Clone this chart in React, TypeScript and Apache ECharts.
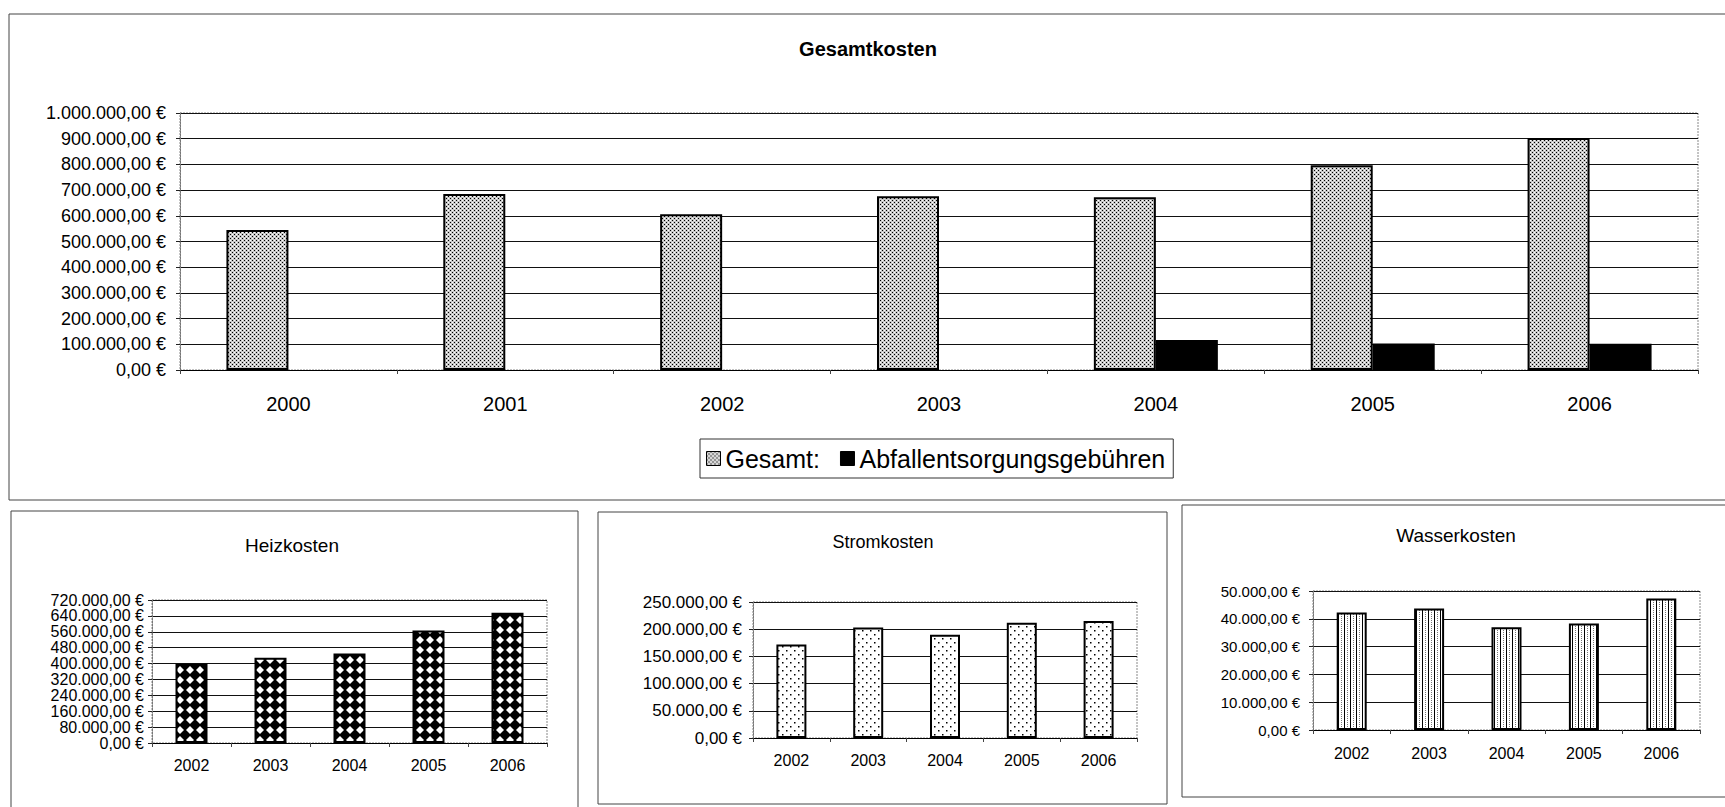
import React, { useEffect, useRef } from "react";
import * as echarts from "echarts";

const yearsTop = ["2000", "2001", "2002", "2003", "2004", "2005", "2006"];
const gesamt = [545000, 685000, 606000, 676000, 672000, 797000, 903000];
const abfall = [null, null, null, null, 117000, 103000, 102000];

const yearsSmall = ["2002", "2003", "2004", "2005", "2006"];
const heiz = [399000, 429000, 451000, 566000, 656000];
const strom = [172000, 203000, 190000, 212000, 215000];
const wasser = [42300, 43700, 37000, 38300, 47300];

const titleTop = "Gesamtkosten";
const titleHeiz = "Heizkosten";
const titleStrom = "Stromkosten";
const titleWasser = "Wasserkosten";
const nameGesamt = "Gesamt:";
const nameAbfall = "Abfallentsorgungsgebühren";

const FONT = "'Liberation Sans', Arial, sans-serif";

const euro = (v: number) => {
  const [i, d] = v.toFixed(2).split(".");
  return i.replace(/\B(?=(\d{3})+(?!\d))/g, ".") + "," + d + " €";
};

function makePattern(w: number, h: number, draw: (c: CanvasRenderingContext2D) => void) {
  const cv = document.createElement("canvas");
  cv.width = w;
  cv.height = h;
  const ctx = cv.getContext("2d")!;
  draw(ctx);
  return { image: cv, repeat: "repeat", imageWidth: w, imageHeight: h } as any;
}

export default function App() {
  const ref = useRef<HTMLDivElement>(null);
  useEffect(() => {
    if (!ref.current) return;
    const chart = echarts.init(ref.current, null, { renderer: "svg" });

    const patGesamt = makePattern(4, 4, (c) => {
      c.fillStyle = "#c8c8c8";
      c.fillRect(0, 0, 4, 4);
      c.fillStyle = "#000";
      c.fillRect(0, 0, 1, 1);
      c.fillRect(2, 2, 1, 1);
      c.fillStyle = "#fff";
      c.fillRect(2, 0, 1, 1);
      c.fillRect(0, 2, 1, 1);
    });
    const patHeiz = makePattern(10, 10, (c) => {
      c.fillStyle = "#fff";
      c.fillRect(0, 0, 10, 10);
      c.fillStyle = "#000";
      c.beginPath();
      c.moveTo(5, -1);
      c.lineTo(11, 5);
      c.lineTo(5, 11);
      c.lineTo(-1, 5);
      c.closePath();
      c.fill();
    });
    const patStrom = makePattern(8, 8, (c) => {
      c.fillStyle = "#fff";
      c.fillRect(0, 0, 8, 8);
      c.fillStyle = "#000";
      c.fillRect(2, 2, 1.5, 1.5);
      c.fillRect(6, 6, 1.5, 1.5);
    });
    const patWasser = makePattern(6, 4, (c) => {
      c.fillStyle = "#fff";
      c.fillRect(0, 0, 6, 4);
      c.fillStyle = "#000";
      c.fillRect(0, 0, 1, 4);
      c.fillStyle = "#777";
      c.fillRect(3, 0, 1, 1);
      c.fillRect(3, 2, 1, 1);
    });

    const axisLabelStyle = (size: number, margin: number) => ({
      color: "#000",
      fontFamily: FONT,
      fontSize: size,
      margin,
    });

    const mkX = (gridIndex: number, data: string[], size: number, margin: number) => ({
      type: "category",
      gridIndex,
      data,
      axisLine: { show: true, lineStyle: { color: "#000", width: 1 } },
      axisTick: { show: true, length: 4, lineStyle: { color: "#444" } },
      axisLabel: axisLabelStyle(size, margin),
      splitLine: { show: false },
    });
    const mkY = (gridIndex: number, max: number, interval: number, size: number, margin: number) => ({
      type: "value",
      gridIndex,
      min: 0,
      max,
      interval,
      axisLine: { show: true, lineStyle: { color: "#777", type: [2, 1] } },
      axisTick: { show: true, length: 4, lineStyle: { color: "#222" } },
      axisLabel: { ...axisLabelStyle(size, margin), formatter: (v: number) => euro(v) },
      splitLine: { show: true, lineStyle: { color: "#111", width: 1 } },
    });

    const barStyle = (color: any) => ({ color, borderColor: "#000", borderWidth: 2 });

    const box = (x: number, y: number, w: number, h: number) => ({
      type: "rect",
      shape: { x, y, width: w, height: h },
      style: { fill: "none", stroke: "#444", lineWidth: 1 },
      silent: true,
    });
    const plotBorder = (x: number, y: number, w: number, h: number) => ({
      type: "rect",
      shape: { x, y, width: w, height: h },
      style: { fill: "none", stroke: "#888", lineWidth: 1, lineDash: [2, 1] },
      silent: true,
      z: -1,
    });

    const mkTitle = (text: string, x: number, y: number, size: number, bold: boolean) => ({
      text,
      left: x,
      top: y,
      padding: 0,
      textAlign: "center",
      textVerticalAlign: "middle",
      textStyle: { fontFamily: FONT, fontSize: size, fontWeight: bold ? "bold" : "normal", color: "#000" },
    });

    chart.setOption({
      animation: false,
      backgroundColor: "#fff",
      title: [
        mkTitle(titleTop, 868, 49, 20, true),
        mkTitle(titleHeiz, 292, 545, 19, false),
        mkTitle(titleStrom, 883, 542, 18, false),
        mkTitle(titleWasser, 1456, 535, 19, false),
      ],
      legend: {
        data: [nameGesamt, nameAbfall],
        left: 700,
        top: 439,
        padding: [6, 8, 6, 6],
        itemGap: 20,
        itemWidth: 14,
        itemHeight: 14,
        icon: "rect",
        borderColor: "#333",
        borderWidth: 1,
        textStyle: { fontFamily: FONT, fontSize: 25, color: "#000", lineHeight: 27 },
        itemStyle: { borderColor: "#000", borderWidth: 1 },
      },
      grid: [
        { left: 180, right: 27, top: 113, bottom: 437, containLabel: false },
        { left: 152, right: 1178, top: 600, bottom: 64, containLabel: false },
        { left: 753, right: 588, top: 602, bottom: 69, containLabel: false },
        { left: 1313, right: 25, top: 591, bottom: 77, containLabel: false },
      ],
      xAxis: [
        mkX(0, yearsTop, 20, 24),
        mkX(1, yearsSmall, 16, 14),
        mkX(2, yearsSmall, 16, 14),
        mkX(3, yearsSmall, 16, 15),
      ],
      yAxis: [
        mkY(0, 1000000, 100000, 18, 14),
        mkY(1, 720000, 80000, 16, 8),
        mkY(2, 250000, 50000, 17, 11),
        mkY(3, 50000, 10000, 15, 13),
      ],
      series: [
        {
          name: nameGesamt,
          type: "bar",
          xAxisIndex: 0,
          yAxisIndex: 0,
          data: gesamt,
          barWidth: 62,
          barGap: "0%",
          itemStyle: barStyle(patGesamt),
        },
        {
          name: nameAbfall,
          type: "bar",
          xAxisIndex: 0,
          yAxisIndex: 0,
          data: abfall,
          barWidth: 62,
          barGap: "0%",
          itemStyle: barStyle("#000"),
        },
        {
          name: titleHeiz,
          type: "bar",
          xAxisIndex: 1,
          yAxisIndex: 1,
          data: heiz,
          barWidth: 32,
          itemStyle: barStyle(patHeiz),
        },
        {
          name: titleStrom,
          type: "bar",
          xAxisIndex: 2,
          yAxisIndex: 2,
          data: strom,
          barWidth: 30,
          itemStyle: barStyle(patStrom),
        },
        {
          name: titleWasser,
          type: "bar",
          xAxisIndex: 3,
          yAxisIndex: 3,
          data: wasser,
          barWidth: 30,
          itemStyle: barStyle(patWasser),
        },
      ],
      graphic: [
        box(9, 14, 1725, 486),
        box(11, 511, 567, 300),
        box(598, 512, 569, 292),
        box(1182, 505, 560, 292),
        plotBorder(180, 113, 1518, 257),
        plotBorder(152, 600, 395, 143),
        plotBorder(753, 602, 384, 136),
        plotBorder(1313, 591, 387, 139),
      ],
    });

    return () => chart.dispose();
  }, []);

  return (
    <div
      ref={ref}
      style={{ position: "fixed", left: 0, top: 0, width: 1725, height: 807, background: "#fff" }}
    />
  );
}
